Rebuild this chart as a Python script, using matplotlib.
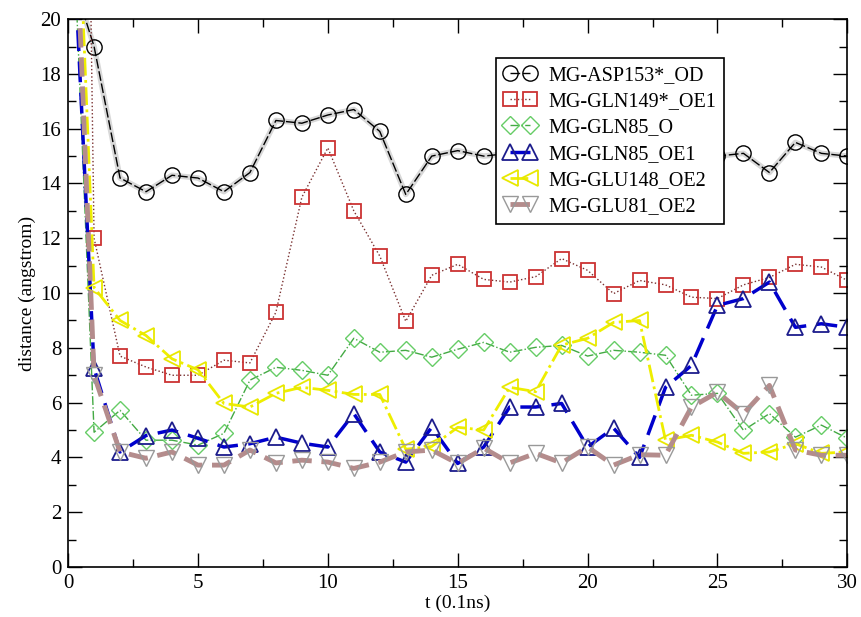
import matplotlib.pyplot as plt
from matplotlib.ticker import MultipleLocator

plt.rcParams['font.family'] = ['Liberation Serif', 'DejaVu Serif']

# time points (0.1 ns)
t = list(range(31))

# distances (angstrom); t=0 values lie above the plot
asp153_od = [22.0, 19.0, 14.2, 13.7, 14.3, 14.2, 13.7, 14.4, 16.3, 16.2, 16.5,
             16.7, 15.9, 13.6, 15.0, 15.2, 15.0, 15.1, 15.3, 14.9, 15.2, 15.0,
             14.8, 15.1, 15.3, 15.0, 15.1, 14.4, 15.5, 15.1, 15.0]
gln149_oe1 = [80.0, 12.0, 7.7, 7.3, 7.0, 7.0, 7.55, 7.45, 9.3, 13.5, 15.3,
              13.0, 11.35, 8.97, 10.65, 11.05, 10.5, 10.4, 10.6, 11.26, 10.83,
              9.98, 10.46, 10.3, 9.85, 9.8, 10.3, 10.57, 11.05, 10.95, 10.46]
gln85_o = [28.0, 4.92, 5.72, 4.63, 4.63, 4.45, 4.88, 6.82, 7.29, 7.18, 7.0,
           8.35, 7.84, 7.91, 7.66, 7.95, 8.2, 7.84, 8.02, 8.09, 7.7, 7.91,
           7.84, 7.73, 6.27, 6.34, 4.99, 5.6, 4.74, 5.18, 4.7]
gln85_oe1 = [27.0, 7.25, 4.2, 4.8, 5.0, 4.7, 4.38, 4.5, 4.74, 4.52, 4.38, 5.6,
             4.2, 3.83, 5.1, 3.78, 4.38, 5.84, 5.84, 5.97, 4.38, 5.07, 4.0,
             6.56, 7.36, 9.55, 9.8, 10.4, 8.75, 8.88, 8.75]
glu148_oe2 = [33.5, 10.2, 9.0, 8.45, 7.6, 7.2, 5.97, 5.84, 6.34, 6.56, 6.45,
              6.3, 6.3, 4.3, 4.4, 5.1, 5.0, 6.56, 6.4, 8.1, 8.35, 8.93, 9.0,
              4.63, 4.81, 4.56, 4.15, 4.2, 4.5, 4.15, 4.2]
glu81_oe2 = [30.6, 7.0, 4.2, 3.97, 4.2, 3.72, 3.72, 4.27, 3.8, 3.9, 3.83, 3.6,
             3.83, 4.2, 4.27, 3.78, 4.34, 3.8, 4.15, 3.8, 4.38, 3.72, 4.1,
             4.08, 5.84, 6.38, 5.6, 6.63, 4.27, 4.08, 4.08]

fig = plt.figure(figsize=(8.62, 6.17), dpi=100)
ax = fig.add_axes([0.079, 0.081, 0.904, 0.888])

# light grey underlay seen behind the black line
ax.plot(t, asp153_od, color='#d8d8d8', linewidth=4, zorder=1)
ax.plot(t, asp153_od, color='black', linewidth=1, linestyle=(0, (7, 2)),
        marker='o', markersize=11, markerfacecolor='none',
        markeredgecolor='black', label='MG-ASP153*_OD', zorder=2)
ax.plot(t, gln149_oe1, color='#7a3030', linewidth=1, linestyle=':',
        marker='s', markersize=10, markerfacecolor='none',
        markeredgecolor='#cc3333', markeredgewidth=1.3, label='MG-GLN149*_OE1')
ax.plot(t, gln85_o, color='#44aa44', linewidth=1, linestyle='-.',
        marker='D', markersize=9, markerfacecolor='none',
        markeredgecolor='#66cc66', label='MG-GLN85_O')
ax.plot(t, gln85_oe1, color='#0000cc', linewidth=2.5, linestyle=(0, (6, 3)),
        marker='^', markersize=12, markerfacecolor='none',
        markeredgecolor='#1c1c8c', markeredgewidth=1.3, label='MG-GLN85_OE1')
ax.plot(t, glu148_oe2, color='#eeee00', linewidth=2, linestyle='-.',
        marker='<', markersize=12, markerfacecolor='none',
        markeredgecolor='#e8e800', markeredgewidth=1.3, label='MG-GLU148_OE2')
ax.plot(t, glu81_oe2, color='#b48c8c', linewidth=3.5, linestyle=(0, (4, 2)),
        marker='v', markersize=12, markerfacecolor='none',
        markeredgecolor='#999999', label='MG-GLU81_OE2')

ax.set_xlim(0, 30)
ax.set_ylim(0, 20)
ax.xaxis.set_major_locator(MultipleLocator(5))
ax.xaxis.set_minor_locator(MultipleLocator(2.5))
ax.yaxis.set_major_locator(MultipleLocator(2))
ax.yaxis.set_minor_locator(MultipleLocator(1))
ax.tick_params(which='both', direction='in', top=True, right=True,
               labelsize=15, width=1)
ax.tick_params(which='major', length=10, pad=5)
ax.tick_params(which='minor', length=6)
for s in ax.spines.values():
    s.set_linewidth(1.2)

ax.set_xlabel('t (0.1ns)', fontsize=14, labelpad=1)
ax.set_ylabel('distance (angstrom)', fontsize=14, labelpad=3)

leg = ax.legend(loc='upper left', bbox_to_anchor=(0.549, 0.929),
                borderaxespad=0, fontsize=14.5, numpoints=2, handlelength=1.6,
                labelspacing=0.35, fancybox=False, framealpha=1,
                edgecolor='black', borderpad=0.4, handletextpad=0.6)
leg.get_frame().set_linewidth(1.2)

fig.savefig('out.png', dpi=100)
